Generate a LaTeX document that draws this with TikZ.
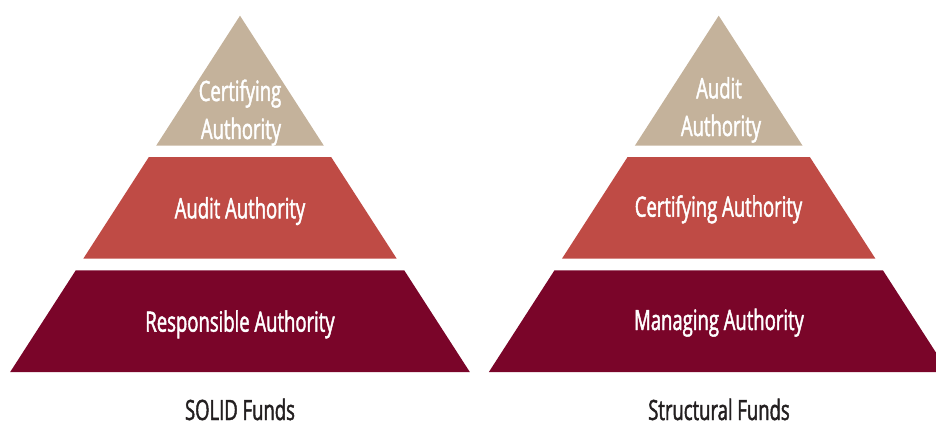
\documentclass[tikz,border=0pt]{standalone}
\usepackage{fontspec}
\setmainfont{Open Sans}[FakeStretch=0.66,FakeBold=1.6]
\definecolor{tierTop}{RGB}{196,178,155}
\definecolor{tierMid}{RGB}{191,75,69}
\definecolor{tierBot}{RGB}{122,5,41}
\definecolor{capGray}{RGB}{35,31,32}
\begin{document}
\begin{tikzpicture}[x=1pt,y=-1pt,
  lbl/.style={text=white,font=\fontsize{28}{38}\selectfont,anchor=base,inner sep=0pt,align=center},
  fundlbl/.style={text=capGray,font=\fontsize{28}{34}\selectfont,anchor=base,inner sep=0pt}]
\useasboundingbox (0,0) rectangle (936,425);
\clip (0,0) rectangle (936,425);
\def\k{0.645}
\foreach \cx in {240,718.7}{
  \fill[tierTop] (\cx,15.7) -- ({\cx+\k*130},145.7) -- ({\cx-\k*130},145.7) -- cycle;
  \fill[tierMid] ({\cx-\k*141.3},157) -- ({\cx+\k*141.3},157) -- ({\cx+\k*243},258.7) -- ({\cx-\k*243},258.7) -- cycle;
  \fill[tierBot] ({\cx-\k*254.6},270.3) -- ({\cx+\k*254.6},270.3) -- ({\cx+\k*356.3},372) -- ({\cx-\k*356.3},372) -- cycle;
}
% left pyramid labels
\node[lbl] (lcert) at (240,101) {Certifying};
\node[lbl] (lcert2) at (241,139) {Authority};
\node[lbl] (laudit) at (240,218.3) {Audit Authority};
\node[lbl] (lresp) at (240,331.7) {Responsible Authority};
\node[fundlbl] (lfund) at (240,420) {SOLID Funds};
% right pyramid labels
\node[lbl] (raudit) at (719,98.3) {Audit};
\node[lbl] (raudit2) at (721,136) {Authority};
\node[lbl] (rcert) at (718.5,216.7) {Certifying Authority};
\node[lbl] (rman) at (719,330) {Managing Authority};
\node[fundlbl] (rfund) at (719,420) {Structural Funds};
\end{tikzpicture}
\end{document}
